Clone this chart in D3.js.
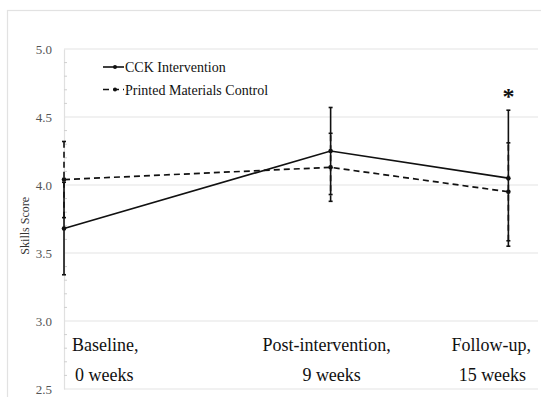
<!DOCTYPE html>
<html>
<head>
<meta charset="utf-8">
<script src="https://cdn.jsdelivr.net/npm/d3@7"></script>
<style>
  html, body { margin: 0; padding: 0; background: #fff; }
  svg { display: block; }
  text { font-family: "Liberation Serif", "DejaVu Serif", serif; }
</style>
</head>
<body>
<svg id="chart" width="541" height="397"></svg>
<script>
// Measurement times (weeks) and their two-line labels
const weeks = [0, 9, 15];
const timeLabelTop = ["Baseline,", "Post-intervention,", "Follow-up,"];
const timeLabelBottom = ["0 weeks", "9 weeks", "15 weeks"];

// Mean skills scores and error half-widths
const cckMean = [3.68, 4.25, 4.05];
const cckErr = [0.34, 0.32, 0.50];
const ctrlMean = [4.04, 4.13, 3.95];
const ctrlErr = [0.28, 0.25, 0.36];

const seriesNames = ["CCK Intervention", "Printed Materials Control"];
const yTicks = [2.5, 3.0, 3.5, 4.0, 4.5, 5.0];

const svg = d3.select("#chart");
const plotLeft = 64, plotRight = 538, plotTop = 49, plotBottom = 389;

const x = d3.scaleLinear().domain([0, 16]).range([plotLeft, plotRight]);
const y = d3.scaleLinear().domain([2.5, 5.0]).range([plotBottom, plotTop]);

// outer frame
svg.append("rect")
  .attr("x", 7.5).attr("y", 10.5).attr("width", 560).attr("height", 420)
  .attr("fill", "none").attr("stroke", "#e2e2e2").attr("stroke-width", 1.2);

// horizontal gridlines
svg.append("g").selectAll("line").data(yTicks).join("line")
  .attr("x1", plotLeft).attr("x2", plotRight)
  .attr("y1", d => y(d)).attr("y2", d => y(d))
  .attr("stroke", "#e4e4e4").attr("stroke-width", 1.2);

// y axis with minor ticks
const yAxis = d3.axisLeft(y).tickValues(yTicks).tickFormat(d3.format(".1f")).tickSize(0).tickPadding(12);
const gy = svg.append("g").attr("transform", `translate(${plotLeft},0)`).call(yAxis);
gy.select(".domain").attr("stroke", "#e0e0e0").attr("stroke-width", 1.2);
gy.selectAll("text")
  .attr("font-family", "'Liberation Serif', serif")
  .attr("font-size", 13).attr("fill", "#555");

const minor = d3.range(25, 51).map(v => v / 10).filter(v => Math.abs(v * 2 - Math.round(v * 2)) > 1e-6);
svg.append("g").selectAll("line").data(minor).join("line")
  .attr("x1", plotLeft).attr("x2", plotLeft + 3)
  .attr("y1", d => y(d)).attr("y2", d => y(d))
  .attr("stroke", "#cfcfcf").attr("stroke-width", 1);

// y axis title
svg.append("text")
  .attr("transform", `translate(29,${(y(3.3) + y(4.1)) / 2}) rotate(-90)`)
  .attr("text-anchor", "middle")
  .attr("font-size", 12).attr("fill", "#333")
  .text("Skills Score");

// time labels inside the plot area
const labelAnchor = ["start", "middle", "middle"];
const labelDx = [8, -4, -17];
const labelDx2 = [11, 1, -16];
svg.append("g").selectAll("text").data(weeks).join("text")
  .attr("x", (d, i) => x(d) + labelDx[i]).attr("y", 351)
  .attr("text-anchor", (d, i) => labelAnchor[i])
  .attr("font-size", 18).attr("fill", "#111")
  .text((d, i) => timeLabelTop[i]);
svg.append("g").selectAll("text").data(weeks).join("text")
  .attr("x", (d, i) => x(d) + labelDx2[i]).attr("y", 381)
  .attr("text-anchor", (d, i) => labelAnchor[i])
  .attr("font-size", 18).attr("fill", "#111")
  .text((d, i) => timeLabelBottom[i]);

const line = d3.line().x(d => x(d[0])).y(d => y(d[1]));

function drawSeries(means, errs, dash) {
  const pts = weeks.map((w, i) => [w, means[i]]);
  const g = svg.append("g");
  // error bars
  g.selectAll("line.err").data(pts).join("line")
    .attr("class", "err")
    .attr("x1", d => x(d[0])).attr("x2", d => x(d[0]))
    .attr("y1", (d, i) => y(d[1] - errs[i])).attr("y2", (d, i) => y(d[1] + errs[i]))
    .attr("stroke", "#111").attr("stroke-width", 1.6)
    .attr("stroke-dasharray", dash);
  // caps
  const caps = pts.flatMap((d, i) => [[d[0], d[1] - errs[i]], [d[0], d[1] + errs[i]]]);
  g.selectAll("line.cap").data(caps).join("line")
    .attr("class", "cap")
    .attr("x1", d => x(d[0]) - 2).attr("x2", d => x(d[0]) + 2)
    .attr("y1", d => y(d[1])).attr("y2", d => y(d[1]))
    .attr("stroke", "#111").attr("stroke-width", 1.6);
  // connecting line
  g.append("path").datum(pts)
    .attr("d", line)
    .attr("fill", "none").attr("stroke", "#111").attr("stroke-width", 1.7)
    .attr("stroke-dasharray", dash);
  // markers
  g.selectAll("circle").data(pts).join("circle")
    .attr("cx", d => x(d[0])).attr("cy", d => y(d[1])).attr("r", 2.3)
    .attr("fill", "#111");
}

drawSeries(ctrlMean, ctrlErr, "6,4");
drawSeries(cckMean, cckErr, null);

// significance marker at follow-up
svg.append("text")
  .attr("x", x(weeks[2])).attr("y", 104)
  .attr("text-anchor", "middle")
  .attr("font-family", "'DejaVu Sans', sans-serif")
  .attr("font-size", 24).attr("font-weight", "bold").attr("fill", "#111")
  .text("*");

// legend
const legendDash = [null, "6,4"];
const lg = svg.append("g").selectAll("g").data(seriesNames).join("g")
  .attr("transform", (d, i) => `translate(103,${67 + i * 22.5})`);
lg.append("line")
  .attr("x1", 0).attr("x2", 21).attr("y1", 0).attr("y2", 0)
  .attr("stroke", "#111").attr("stroke-width", 1.6)
  .attr("stroke-dasharray", (d, i) => legendDash[i]);
lg.append("circle").attr("cx", 12).attr("cy", 0).attr("r", 2).attr("fill", "#111");
lg.append("text")
  .attr("x", 22).attr("y", 5)
  .attr("font-size", 14).attr("fill", "#111")
  .text(d => d);
</script>
</body>
</html>
